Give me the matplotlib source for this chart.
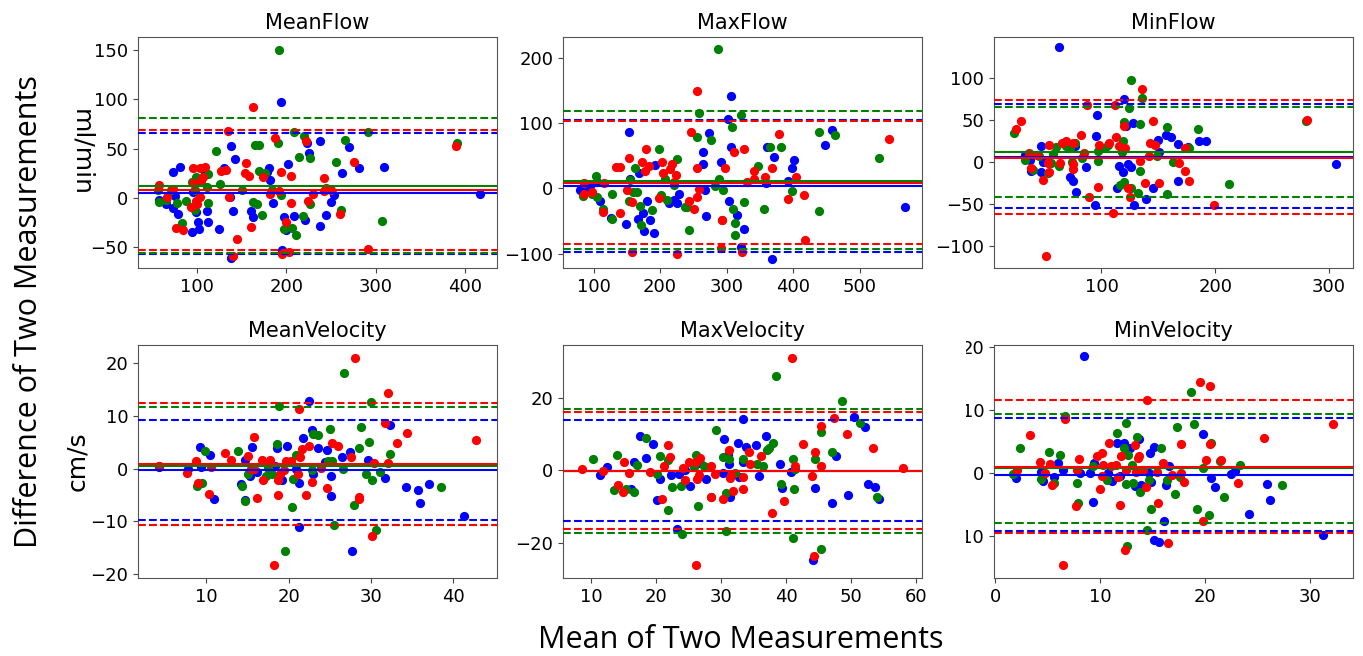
import matplotlib
matplotlib.use("Agg")
import matplotlib.pyplot as plt
from matplotlib.patches import Rectangle

# ---------------- data ----------------
titles = ["MeanFlow", "MaxFlow", "MinFlow", "MeanVelocity", "MaxVelocity", "MinVelocity"]
colors = ["#0000ff", "#008000", "#ff0000"]  # blue, green, red series

# MeanFlow
meanflow_blue_x = [417,309,281,270,262,253,250,244,238,238,225,223,221,209,202,200,197,195,194,185,182,181,179,163,161,143,140,138,138,137,130,125,112,111,109,102,101,99,96,94,81,79,75,73,73,65,58]
meanflow_blue_y = [3.7,31,30,52,25,3,-4,-17,-28,58,45,56,-22,-18,34,-33,-19,-53,97,-5,18,30,26,-19,-13,39,-13,53,-61,1,30,-32,-24,-13,25,-31,-24,-14,6,-35,31,-16,2,26,-10,-6,-2]
meanflow_green_x = [192,391,291,307,266,256,261,227,227,220,214,211,207,209,219,197,194,191,184,176,173,170,169,165,167,163,150,126,121,112,112,111,99,98,95,98,88,83,78,71,65,58,56,105]
meanflow_green_y = [150,56,67,-23,59,36,-12,40,-6,63,41,-38,-30,67,-18,-31,3,56,8,25,-17,27,54,54,-6,-4,8,14,48,-5,24,11,21,8,16,-12,-3,-25,-5,8,-2,-4,8,16]
meanflow_red_x = [390,292,276,260,250,245,242,242,230,224,222,205,205,203,200,195,194,192,187,182,174,163,160,158,155,154,145,140,136,135,133,127,109,107,105,103,103,100,96,96,99,93,84,76,73,67,58]
meanflow_red_y = [53,-52,36,-16,8,10,20,7,4,-3,58,22,-5,-55,-24,-57,26,7,61,4,21,92,-29,22,35,25,-42,-59,1,68,28,27,31,21,18,30,1,-6,30,15,-3,-9,-33,-30,9,1,13]

# MaxFlow
maxflow_blue_x = [569,458,448,401,399,392,368,372,361,359,326,322,316,307,306,304,302,292,273,269,268,265,265,229,225,221,213,193,191,185,180,176,175,167,168,155,154,149,126,109,105,95,90,79]
maxflow_blue_y = [-29,90,67,43,31,12,-108,48,64,8,-62,-90,-41,142,64,-19,107,41,85,-42,-2,56,37,-9,-23,-18,-23,36,-68,-49,-19,-65,-37,-47,23,15,86,-55,-45,-19,10,3,-4,-3]
maxflow_green_x = [287,530,439,439,463,399,382,366,356,347,326,322,313,312,309,308,295,293,288,283,276,258,256,243,240,237,225,221,210,207,199,202,188,172,165,170,163,153,155,159,128,127,114,105,104,84,97]
maxflow_green_y = [213,47,86,-35,82,-4,63,64,-32,35,-21,112,-72,-53,-31,94,-2,-49,14,3,74,115,79,-64,-29,-28,45,5,-18,15,61,-10,-33,-56,-6,-27,31,-19,13,-5,-47,-9,-31,-13,19,-12,-8]
maxflow_red_x = [545,417,418,405,393,379,368,358,342,341,331,327,323,311,298,293,292,258,256,256,256,251,246,243,224,221,225,218,215,204,203,198,183,179,177,173,158,158,154,150,139,140,134,114,116,97,85,85]
maxflow_red_y = [76,-10,-79,18,-16,84,32,18,26,14,10,60,-97,56,32,-48,-92,-1,-13,32,149,-31,86,-19,21,10,-100,37,30,23,41,-14,35,60,27,41,-21,-98,46,-2,-37,33,33,-36,8,-5,-8,8]

# MinFlow
minflow_blue_x = [63,306,192,186,176,167,167,161,157,151,150,145,139,128,129,126,123,122,120,119,115,114,96,95,94,86,78,77,75,72,47,47,49,38,37,33]
minflow_blue_y = [137,-2,25,25,18,22,-22,30,32,12,26,-31,-44,47,-51,-6,-2,43,75,-12,-5,-31,56,31,-51,-6,-36,19,-23,-18,19,-12,0,-11,2,9]
minflow_green_x = [212,185,177,163,158,158,149,134,134,132,136,126,124,126,120,120,119,118,116,106,103,97,97,83,74,72,77,69,63,60,57,56,45,40,33,23,53,280]
minflow_green_y = [-26,40,17,0,-38,42,7,45,-11,-37,76,98,64,-31,48,-24,25,12,-27,21,17,13,1,5,0,17,23,19,-5,18,10,-1,7,-9,3,35,-13,49]
minflow_red_x = [281,199,177,173,173,168,151,147,143,142,145,138,136,134,125,123,121,120,113,112,115,110,107,98,97,89,87,85,82,75,75,75,69,65,64,54,54,53,51,49,43,38,36,29,25]
minflow_red_y = [50,-51,-22,-10,17,-1,-25,21,23,7,49,-25,87,1,-41,-31,17,43,30,68,19,-60,23,20,-29,-42,68,11,32,-8,-2,23,25,23,-1,21,-12,-1,-112,-21,8,-7,11,49,39]

# MeanVelocity
meanvel_blue_x = [41.3,37.0,36.0,35.7,34.2,32.3,31.7,29.6,26.5,27.4,27.7,25.2,25.1,24.6,24.4,23.6,22.8,23.0,22.5,21.7,21.2,21.3,20.9,19.8,19.2,18.6,18.3,16.2,15.5,15.3,14.7,14.7,14.2,10.9,10.5,9.2,9.3,7.8,4.2]
meanvel_blue_y = [-9.1,-2.9,-6.5,-4.1,-3.5,8.3,-1.8,1.7,2.2,3.2,-15.6,-1.5,-5.2,3.5,1.3,3.9,7.3,-1.1,12.8,5.9,-2.7,-11.1,-0.1,4.3,-2.1,3.9,0.5,-0.6,4.1,-1.4,1.6,-6.0,-3.0,-5.7,2.5,4.1,0.3,0.0,0.3]
meanvel_green_x = [30.0,28.8,28.5,27.9,26.7,29.8,30.1,29.4,31.1,32.3,30.6,26.6,25.5,25.0,25.3,24.8,23.6,23.0,22.8,20.9,20.5,20.4,19.6,18.8,18.6,18.0,17.5,17.3,15.1,14.7,14.3,13.8,9.8,9.5,8.9,38.5,4.2]
meanvel_green_y = [12.6,7.9,3.9,-7.0,18.1,5.1,-2.2,-1.0,-0.6,2.7,-11.7,-0.1,-10.8,7.6,1.4,1.4,6.3,6.5,-0.3,2.5,-2.0,-7.3,-15.6,11.9,4.6,-1.0,0.2,-1.4,-1.0,-6.2,-3.4,3.3,3.3,-2.7,-3.3,-3.5,0.5]
meanvel_red_x = [28.0,32.1,31.7,33.2,34.4,42.8,32.1,30.4,30.1,28.6,28.5,27.6,26.0,25.3,24.6,23.9,22.8,22.5,22.1,21.6,21.4,21.3,21.1,20.3,19.7,19.4,18.9,18.7,18.7,18.2,17.7,17.7,16.9,16.7,16.2,15.8,15.8,15.1,13.0,12.3,10.3,10.6,9.0,8.8,7.7,4.2,15.4]
meanvel_red_y = [21.0,14.4,8.6,4.8,6.8,5.5,1.1,1.1,-12.9,-5.4,-5.8,2.3,4.3,4.9,-3.6,0.2,-2.5,4.3,-5.1,3.8,2.2,11.3,-1.1,1.4,1.4,-0.3,-1.0,-2.2,-5.1,-18.4,1.0,1.6,-2.2,1.6,-5.6,6.0,0.0,2.4,1.7,2.9,-4.8,0.3,-2.7,1.4,-0.8,0.5,0.0]

# MaxVelocity
maxvel_blue_x = [54.3,53.7,52.6,52.1,50.5,49.5,47.6,47.0,44.5,44.1,40.8,39.3,39.1,36.9,35.8,35.4,33.8,33.3,33.3,32.8,32.6,31.4,31.2,31.1,30.4,30.3,27.7,26.7,25.2,24.4,23.6,23.2,22.3,20.6,20.2,19.6,18.5,17.6,16.6,16.1,12.4,11.4]
maxvel_blue_y = [-7.8,-4.6,-3.7,12.0,14.7,-6.7,4.0,-8.9,-4.8,-24.8,-0.5,-4.8,1.8,9.4,-1.7,6.9,6.4,14.1,2.3,-2.0,7.4,-7.5,1.7,4.1,8.7,-0.9,-2.3,2.1,-4.3,0.0,-1.1,-16.1,-1.4,-2.3,-8.3,7.1,3.4,9.4,2.3,-5.1,0.9,-1.2]
maxvel_green_x = [38.5,48.6,51.3,54.0,47.1,45.4,44.5,45.4,41.3,41.2,41.0,41.0,39.2,38.0,37.3,37.1,36.4,35.5,33.3,32.2,31.2,30.8,30.7,30.3,29.3,28.4,27.4,26.5,26.2,25.9,24.0,23.9,22.5,21.9,21.8,20.6,20.2,18.5,17.1,16.6,15.4,14.0,13.6,10.3]
maxvel_green_y = [25.9,19.0,13.1,-7.4,4.9,10.6,3.2,-21.6,0.2,-5.1,3.2,-18.7,-3.9,7.5,6.0,5.5,1.2,1.8,3.2,-0.9,3.2,-16.8,-6.2,3.7,11.0,-7.5,1.2,-9.8,4.1,0.9,-17.5,-4.3,-4.6,-11.0,2.9,3.9,-1.1,9.0,1.4,-6.0,-5.2,4.1,-5.5,3.2]
maxvel_red_x = [40.9,58.0,53.3,49.4,47.3,45.3,45.4,44.4,44.0,44.3,42.6,41.3,39.7,37.8,36.2,34.4,34.3,33.3,33.3,31.8,31.6,31.4,31.3,30.3,29.1,28.5,28.4,26.8,26.6,26.3,26.2,26.2,25.0,24.5,24.2,22.2,21.9,21.2,20.9,19.1,15.9,15.0,15.1,14.2,11.9,8.6]
maxvel_red_y = [30.8,0.6,6.2,10.1,14.5,1.2,12.1,5.1,-1.6,-23.7,7.1,1.2,-8.5,-11.7,4.0,1.6,5.1,-2.0,-5.2,-5.7,-1.4,-2.1,5.5,-7.8,-1.1,-7.4,1.1,3.5,-1.4,-2.5,-26.2,2.3,2.3,-2.8,0.5,3.7,6.9,1.2,-8.0,-0.6,-0.9,-6.0,2.3,-4.1,-0.2,0.2]

# MinVelocity
minvel_blue_x = [8.5,31.2,26.2,25.9,24.2,22.9,22.5,21.0,20.6,19.8,16.6,16.3,16.1,15.6,15.1,15.1,14.9,14.8,14.7,13.9,13.7,13.3,12.9,12.3,11.6,11.9,11.1,10.8,9.4,9.0,9.3,8.1,6.5,6.0,5.6,4.6,4.4,2.0]
minvel_blue_y = [18.5,-9.8,-4.3,-1.7,-6.5,0.3,-0.2,-2.3,-0.8,6.1,1.1,-2.0,-7.6,-11.0,-10.6,4.1,-1.5,3.2,-0.1,-2.0,5.3,-2.1,3.9,4.7,4.7,-0.5,-1.3,0.0,1.6,-0.1,-4.7,-0.1,0.4,1.6,-0.6,-1.3,0.2,-0.8]
minvel_green_x = [18.7,19.0,19.2,19.8,20.6,20.4,21.4,21.8,23.3,27.3,17.3,17.1,17.6,16.4,15.8,14.9,14.7,14.5,13.8,13.5,13.1,13.0,12.7,12.5,12.6,12.5,12.3,11.6,10.7,9.3,7.8,7.9,6.7,6.2,5.6,5.1,4.4,2.4,1.7]
minvel_green_y = [12.8,7.7,-5.8,0.8,4.8,-6.7,1.9,-3.9,1.3,-2.0,7.3,-3.4,-0.6,-1.1,4.0,-5.7,-1.2,-9.0,-3.0,5.7,-1.6,1.3,2.9,7.9,-11.6,-1.8,3.9,6.3,-1.1,1.1,-1.6,-4.8,9.0,2.9,-1.6,3.3,-0.9,4.0,-0.2]
minvel_red_x = [19.5,20.5,14.5,32.2,25.6,20.5,21.5,20.1,19.8,23.1,18.0,17.7,17.7,16.9,16.0,15.5,15.4,14.4,14.1,13.7,13.6,13.3,13.4,12.5,12.4,12.0,11.9,11.7,11.5,11.0,10.9,10.3,10.2,10.0,10.2,9.7,16.5,8.0,7.8,7.7,6.7,6.5,5.4,5.2,4.8,4.3,3.3,2.1]
minvel_red_y = [14.4,13.8,11.6,7.7,5.6,4.5,2.1,2.0,-7.7,-1.6,-1.4,4.6,0.0,-0.3,1.6,-4.8,0.2,-2.3,0.4,2.7,2.3,4.4,0.2,0.4,-12.2,2.6,-5.1,-0.7,1.3,1.1,4.7,1.3,-0.5,-2.6,3.1,2.7,-11.1,2.2,0.4,-5.2,8.6,-14.6,-2.0,1.4,0.0,1.7,6.0,0.5]

# bias and limits of agreement per panel, order: blue, green, red
bias = [[5, 12.5, 8], [3, 12, 9], [6.5, 11.8, 5.5],
        [-0.3, 0.5, 0.8], [-0.2, -0.2, -0.2], [-0.3, 0.7, 0.85]]
upper = [[65.5, 80.5, 69], [104.8, 118, 103.5], [69, 66, 74],
         [9.2, 11.7, 12.4], [13.8, 16.8, 16.1], [8.7, 9.3, 11.5]]
lower = [[-56.5, -55.5, -53], [-98, -93, -85], [-55, -41.5, -62],
         [-9.8, -10.8, -10.8], [-14, -17.2, -16.3], [-9.2, -8.0, -9.6]]

xticks = [[100, 200, 300, 400], [100, 200, 300, 400, 500], [100, 200, 300],
          [10, 20, 30, 40], [10, 20, 30, 40, 50, 60], [0, 10, 20, 30]]
yticks = [[-50, 0, 50, 100, 150], [-100, 0, 100, 200], [-100, -50, 0, 50, 100],
          [-20, -10, 0, 10, 20], [-20, 0, 20], [-10, 0, 10, 20]]
xlims = [(34, 436), (54, 594), (5.6, 321), (1.7, 45.3), (5.7, 60.9), (-0.1, 34.1)]
ylims = [(-71, 163), (-122, 232), (-126, 149), (-20.8, 23.5), (-29.7, 34.5), (-16.7, 20.3)]

series = [
    [(meanflow_blue_x, meanflow_blue_y), (meanflow_green_x, meanflow_green_y), (meanflow_red_x, meanflow_red_y)],
    [(maxflow_blue_x, maxflow_blue_y), (maxflow_green_x, maxflow_green_y), (maxflow_red_x, maxflow_red_y)],
    [(minflow_blue_x, minflow_blue_y), (minflow_green_x, minflow_green_y), (minflow_red_x, minflow_red_y)],
    [(meanvel_blue_x, meanvel_blue_y), (meanvel_green_x, meanvel_green_y), (meanvel_red_x, meanvel_red_y)],
    [(maxvel_blue_x, maxvel_blue_y), (maxvel_green_x, maxvel_green_y), (maxvel_red_x, maxvel_red_y)],
    [(minvel_blue_x, minvel_blue_y), (minvel_green_x, minvel_green_y), (minvel_red_x, minvel_red_y)],
]

# ---------------- figure ----------------
W, H = 1363, 656
fig = plt.figure(figsize=(W / 100, H / 100), dpi=100)

col_left = [138, 563, 994]
row_top = [37, 345]
row_bottom = [268, 578]
ax_w = 359

axes = []
for i in range(6):
    r, c = divmod(i, 3)
    left = col_left[c] / W
    bottom = 1 - row_bottom[r] / H
    height = (row_bottom[r] - row_top[r]) / H
    ax = fig.add_axes([left, bottom, ax_w / W, height])
    axes.append(ax)

for i, ax in enumerate(axes):
    for (xs, ys), col in zip(series[i], colors):
        ax.scatter(xs, ys, s=44, color=col, zorder=2, linewidths=0)
    for k, col in enumerate(colors):
        ax.axhline(bias[i][k], color=col, lw=1.5, zorder=3)
        ax.axhline(upper[i][k], color=col, lw=1.5, ls="--", zorder=3)
        ax.axhline(lower[i][k], color=col, lw=1.5, ls="--", zorder=3)
    ax.set_xlim(*xlims[i])
    ax.set_ylim(*ylims[i])
    ax.set_xticks(xticks[i])
    ax.set_yticks(yticks[i])
    ax.tick_params(labelsize=13, color="#444444")
    for sp in ax.spines.values():
        sp.set_color("#555555")
    ax.set_title(titles[i], fontsize=15, pad=6)

axes[0].set_ylabel("ml/min", fontsize=18, rotation=270, va="center", ha="center")
axes[0].yaxis.set_label_coords(-0.159, 0.5)
axes[3].set_ylabel("cm/s", fontsize=18, rotation=90, va="center", ha="center")
axes[3].yaxis.set_label_coords(-0.17, 0.5)

# clipped tick labels at the left edge of the last panel (as in the reference)
fig.patches.append(Rectangle((940 / W, 1 - 595 / H), 26 / W, 270 / H,
                             transform=fig.transFigure, facecolor="white",
                             edgecolor="none", zorder=10))

fig.text(741 / W, 1 - 640 / H, "Mean of Two Measurements", fontsize=22,
         family=["Open Sans", "DejaVu Sans"], ha="center", va="center")
fig.text(29 / W, 1 - 312 / H, "Difference of Two Measurements", fontsize=22,
         family=["Open Sans", "DejaVu Sans"], ha="center", va="center", rotation=90)

fig.savefig("out.png", dpi=100)
